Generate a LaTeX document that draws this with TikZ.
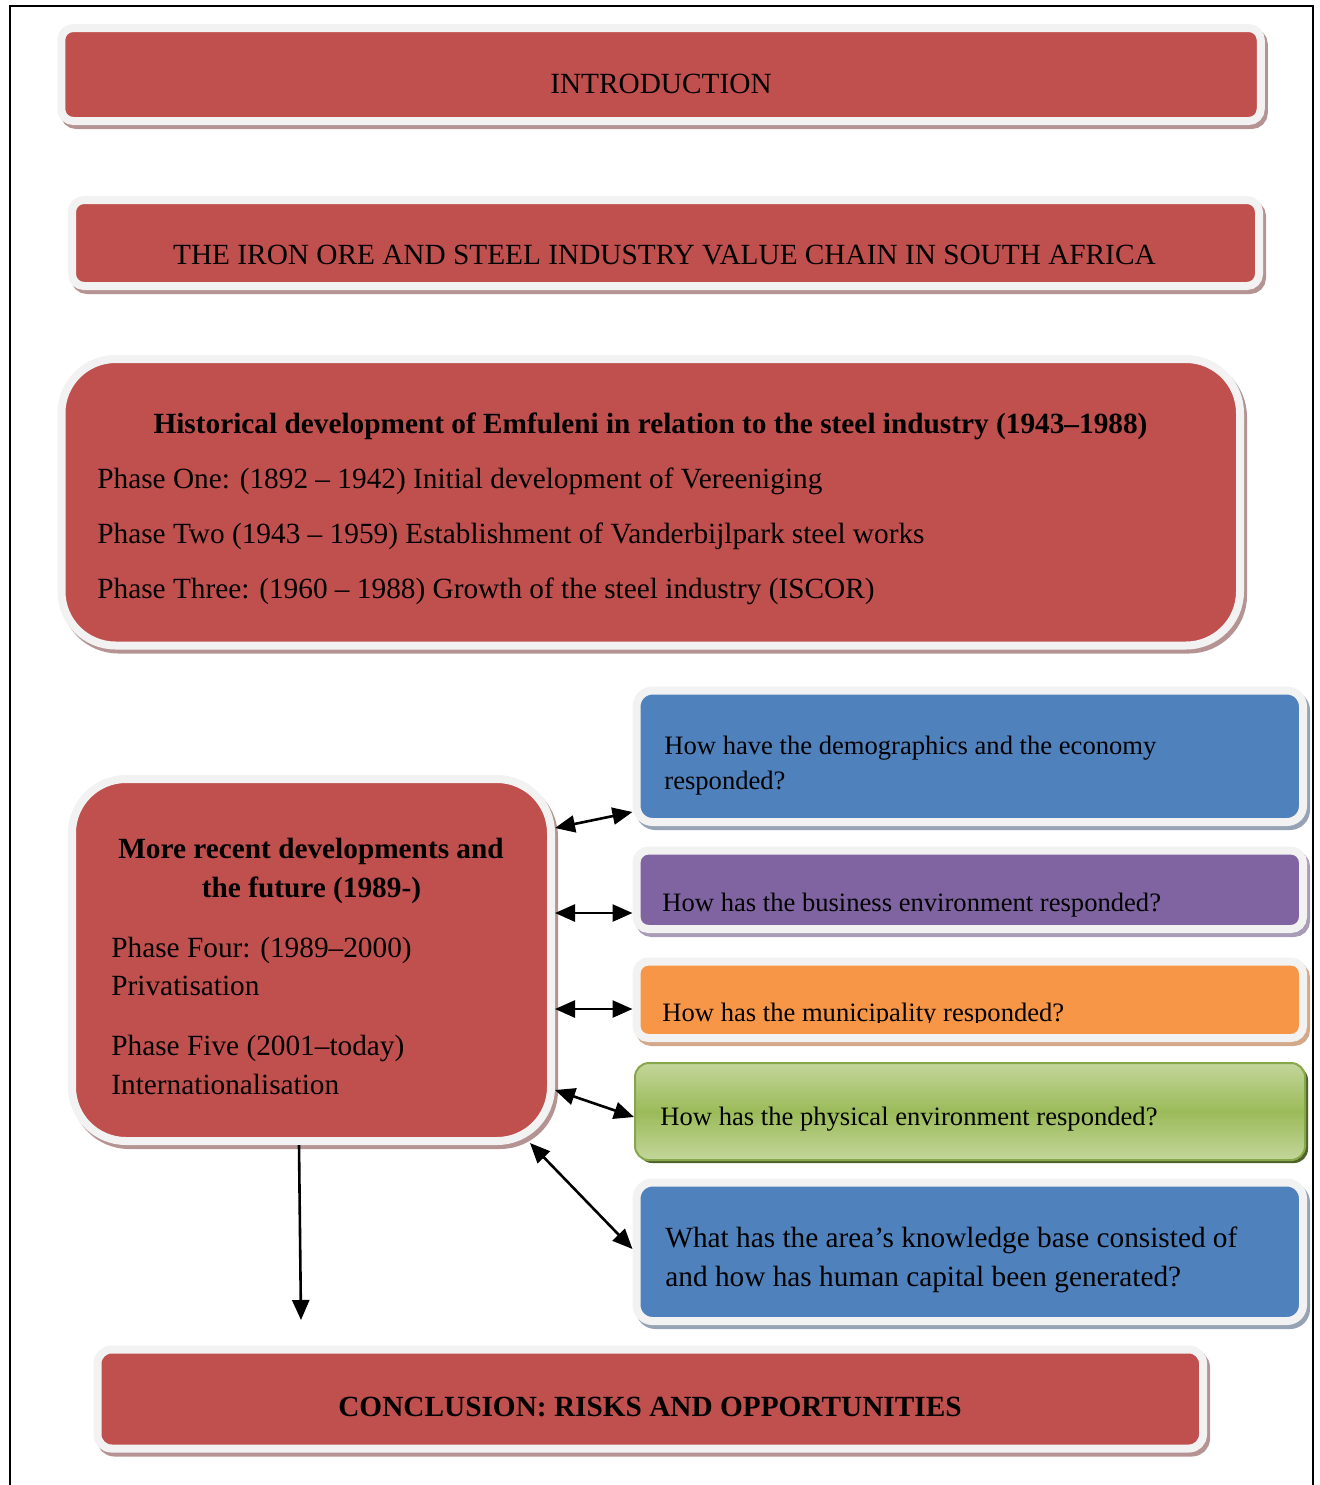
\documentclass[tikz,border=0pt]{standalone}
\usepackage{fontspec}
\setmainfont{Liberation Serif}
\usetikzlibrary{arrows.meta}
\definecolor{boxred}{HTML}{C0504D}\definecolor{redshadow}{RGB}{181,147,147}
\definecolor{boxblue}{HTML}{4F81BD}\definecolor{blueshadow}{RGB}{149,163,181}
\definecolor{boxpurple}{HTML}{8064A2}\definecolor{purpleshadow}{RGB}{169,156,183}
\definecolor{boxorange}{HTML}{F79646}\definecolor{orangeshadow}{RGB}{212,168,138}
\definecolor{greenmid}{HTML}{9BBB59}\definecolor{greenlight}{HTML}{C3D69B}
\definecolor{greenedge}{HTML}{86A84A}\definecolor{greenshadow}{HTML}{4F6228}
\definecolor{rimgray}{HTML}{F2F2F2}
\tikzset{
panel/.style={rectangle,rounded corners=#1,draw=rimgray,line width=4pt,outer sep=2pt,inner sep=0pt},
lowshadow/.style={preaction={draw=#1,line width=4pt,transform canvas={shift={(1.5pt,-2pt)}}}},
bigtxt/.style={inner sep=0pt,font=\fontsize{14.65pt}{17pt}\selectfont},
smalltxt/.style={inner sep=0pt,anchor=base west,font=\fontsize{13.3pt}{16pt}\selectfont},
link/.style={{Triangle[length=10pt,width=8.5pt]}-{Triangle[length=10pt,width=8.5pt]},line width=1.3pt},
drop/.style={-{Triangle[length=10pt,width=8.5pt]},line width=1.3pt}
}
\begin{document}
\begin{tikzpicture}[x=0.5pt,y=-0.5pt]
\useasboundingbox (0,0) rectangle (1320,1485);
\draw[line width=1pt](10,1485)--(10,6)--(1313,6)--(1313,1485);
% boxes
\node[panel=6pt,lowshadow=redshadow,fill=boxred,minimum width=599.75pt,minimum height=46.5pt](intro)at(661,74.5){};
\node[panel=6pt,lowshadow=redshadow,fill=boxred,minimum width=593.5pt,minimum height=43pt](chain)at(665.5,243){};
\node[panel=27pt,lowshadow=redshadow,fill=boxred,minimum width=589.25pt,minimum height=143.25pt](hist)at(650.75,502.25){};
\node[panel=27pt,lowshadow=redshadow,fill=boxred,minimum width=239.5pt,minimum height=181pt](recent)at(311.5,960){};
\node[panel=8pt,lowshadow=blueshadow,fill=boxblue,minimum width=333.25pt,minimum height=65.75pt](q1)at(969.75,756.25){};
\node[panel=6pt,lowshadow=purpleshadow,fill=boxpurple,minimum width=333.25pt,minimum height=39.25pt](q2)at(969.75,889.75){};
\node[panel=6pt,lowshadow=orangeshadow,fill=boxorange,minimum width=333.25pt,minimum height=38.25pt](q3)at(969.75,999.75){};
\node[rectangle,rounded corners=7pt,draw=greenedge,line width=1pt,inner sep=0pt,
  preaction={fill=greenshadow,transform canvas={shift={(1.5pt,-1.5pt)}}},
  top color=greenlight,bottom color=greenlight,middle color=greenmid,
  minimum width=335pt,minimum height=48.5pt](q4)at(970,1111.5){};
\node[panel=8pt,lowshadow=blueshadow,fill=boxblue,minimum width=333.25pt,minimum height=69.25pt](q5)at(969.75,1251.75){};
\node[panel=7pt,lowshadow=redshadow,fill=boxred,minimum width=552.75pt,minimum height=49.5pt](concl)at(650.25,1399){};
% texts
\node[bigtxt,anchor=base](introtxt)at(661,93){INTRODUCTION};
\node[bigtxt,anchor=base](chaintxt)at(664.5,264){THE IRON ORE AND STEEL INDUSTRY VALUE CHAIN IN SOUTH AFRICA};
\node[bigtxt,anchor=base,font=\fontsize{14.65pt}{17pt}\selectfont\bfseries](histtitle)at(650.5,433){Historical development of Emfuleni in relation to the steel industry (1943--1988)};
\foreach\i/\y/\t in{1/488/Phase One: (1892 -- 1942) Initial development of Vereeniging,
  2/543/Phase Two (1943 -- 1959) Establishment of Vanderbijlpark steel works,
  3/598/Phase Three: (1960 -- 1988) Growth of the steel industry (ISCOR)}
  {\node[bigtxt,anchor=base west](phase\i)at(97,\y){\t};}
\node[bigtxt,anchor=base,font=\fontsize{14.65pt}{17pt}\selectfont\bfseries](recenttitle1)at(311,858){More recent developments and};
\node[bigtxt,anchor=base,font=\fontsize{14.65pt}{17pt}\selectfont\bfseries](recenttitle2)at(311.5,897){the future (1989-)};
\foreach\i/\y/\t in{4/957/Phase Four: (1989--2000),4b/995/Privatisation,5/1055/Phase Five (2001--today),5b/1094/Internationalisation}
  {\node[bigtxt,anchor=base west](phase\i)at(111,\y){\t};}
\node[smalltxt](q1a)at(664,754){How have the demographics and the economy};
\node[smalltxt](q1b)at(664,789){responded?};
\node[smalltxt](q2txt)at(662,911){How has the business environment responded?};
\begin{scope}
\clip(600,950)rectangle(1310,1022.5);
\node[smalltxt](q3txt)at(662,1021){How has the municipality responded?};
\end{scope}
\node[smalltxt](q4txt)at(660,1125){How has the physical environment responded?};
\node[bigtxt,anchor=base west](q5a)at(665,1247){What has the area’s knowledge base consisted of};
\node[bigtxt,anchor=base west](q5b)at(665,1286){and how has human capital been generated?};
\node[bigtxt,anchor=base,font=\fontsize{14.65pt}{17pt}\selectfont\bfseries](concltxt)at(650,1416){CONCLUSION: RISKS AND OPPORTUNITIES};
% arrows
\draw[link](recent.east |- 0,828)--(q1.west |- 0,812);
\draw[link](recent.east |- 0,913)--(q2.west |- 0,913);
\draw[link](recent.east |- 0,1009)--(q3.west |- 0,1009);
\draw[link](recent.east |- 0,1090)--(q4.west |- 0,1117);
\draw[link]([shift={(-25,-2)}]recent.south east)--(q5.west |- 0,1249);
\coordinate(dropend)at(301,1320);
\draw[drop](recent.south -| 299,0)--(dropend);
\end{tikzpicture}
\end{document}
